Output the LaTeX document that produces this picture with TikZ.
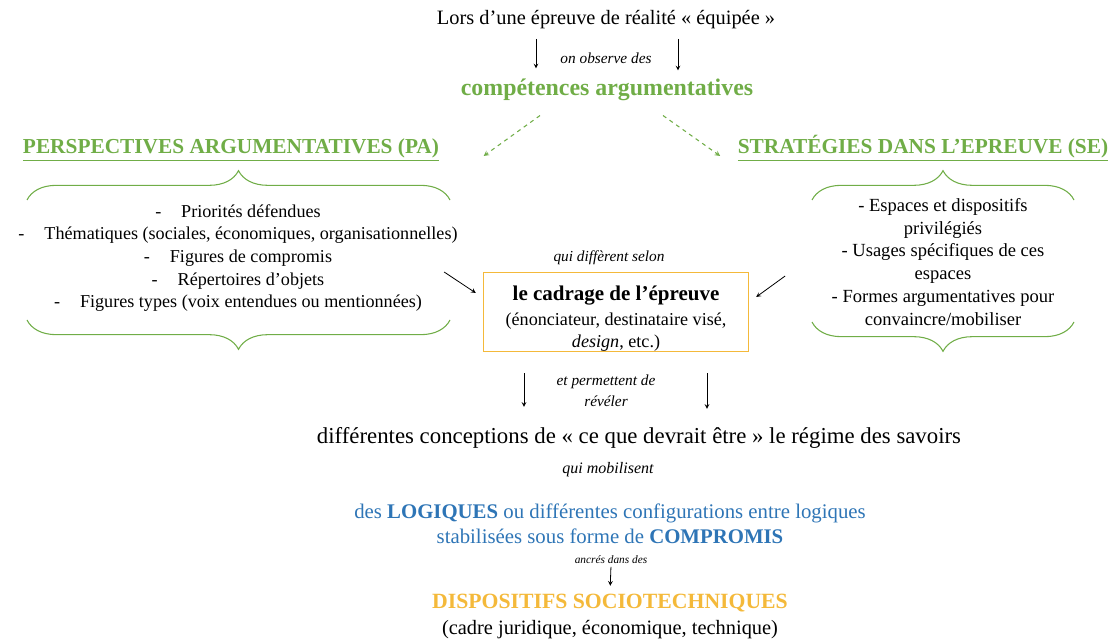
\documentclass[tikz,border=0pt]{standalone}
\usepackage{fontspec}
\setmainfont{Liberation Serif}
\usetikzlibrary{positioning,calc,arrows,decorations.pathreplacing}
\definecolor{vert}{RGB}{112,173,71}
\definecolor{bleu}{RGB}{46,117,182}
\definecolor{jaune}{RGB}{244,185,58}

\begin{document}
\begin{tikzpicture}[x=0.75pt, y=-0.75pt,
    texte/.style={inner sep=1pt, font=\fontsize{15.3}{18}\selectfont},
    liaison/.style={inner sep=1pt, align=center, font=\fontsize{11.5}{16}\selectfont\itshape},
    titre/.style={inner sep=1pt, text=vert, font=\fontsize{16}{19}\selectfont\bfseries},
    liste/.style={inner sep=1pt, align=center, font=\fontsize{13.6}{17}\selectfont},
    cadrebox/.style={draw=jaune, thick, align=center, inner ysep=0.5pt, minimum width=199pt, minimum height=58.5pt},
    fleche/.style={->, >=stealth, draw=black, semithick},
    tirets/.style={->, >=stealth, draw=vert, dashed, thick},
    accolade/.style={draw=vert, thick, decorate, decoration={brace, amplitude=22pt}}
    ]
        \useasboundingbox (0,0) rectangle (1117,641);

        %Nodes
        \node[texte]
            (lors)      at (606,20)     {Lors d’une épreuve de réalité « équipée »};
        \node[liaison]
            (observe)   at (606,58)     {on observe des};
        \node[titre, font=\fontsize{17.9}{20}\selectfont\bfseries]
            (comp)      at (607,90)     {compétences argumentatives};
        \node[titre]
            (pa)        at (231,150)    {\underline{PERSPECTIVES ARGUMENTATIVES (PA)}};
        \node[titre]
            (se)        at (923,148)    {\underline{STRATÉGIES DANS L’EPREUVE (SE)}};
        \node[liste]
            (palist)    at (238,258)    {-\hspace{1.1em}Priorités défendues\\
                                          -\hspace{1.1em}Thématiques (sociales, économiques, organisationnelles)\\
                                          -\hspace{1.1em}Figures de compromis\\
                                          -\hspace{1.1em}Répertoires d’objets\\
                                          -\hspace{1.1em}Figures types (voix entendues ou mentionnées)};
        \node[liste, font=\fontsize{13.9}{17.2}\selectfont]
            (selist)    at (943,262)    {- Espaces et dispositifs\\ privilégiés\\
                                          - Usages spécifiques de ces\\ espaces\\
                                          - Formes argumentatives pour\\ convaincre/mobiliser};
        \node[cadrebox, font=\fontsize{13.6}{16.5}\selectfont]
            (cadrage)   at (616,312)    {\rule{0pt}{21pt}{\fontsize{15.75}{18}\selectfont\bfseries le cadrage de l’épreuve}\\[2pt]
                                          (énonciateur, destinataire visé,\\
                                          \textit{design}, etc.)};
        \node[liaison]
            (selon)     at (609,258)    {qui diffèrent selon};
        \node[liaison]
            (reveler)   at (606,391)    {et permettent de\\révéler};
        \node[texte, font=\fontsize{17.1}{20}\selectfont]
            (concept)   at (639,438)    {différentes conceptions de « ce que devrait être » le régime des savoirs};
        \node[liaison, font=\fontsize{12}{16}\selectfont\itshape]
            (mobil)     at (608,470)    {qui mobilisent};
        \node[texte, text=bleu, align=center, font=\fontsize{15.6}{18.75}\selectfont]
            (logiques)  at (610,524)    {des \textbf{LOGIQUES} ou différentes configurations entre logiques\\
                                          stabilisées sous forme de \textbf{COMPROMIS}};
        \node[liaison, font=\fontsize{8.5}{10}\selectfont\itshape]
            (ancres)    at (611,560)    {ancrés dans des};
        \node[titre, text=jaune, font=\fontsize{16.3}{19}\selectfont\bfseries]
            (dispo)     at (610,603)    {DISPOSITIFS SOCIOTECHNIQUES};
        \node[texte]
            (cadre)     at (610,630)    {(cadre juridique, économique, technique)};

        %Braces
        \draw[accolade] (27,200) -- (450,200);
        \draw[accolade] (450,320) -- (27,320);
        \draw[accolade] (812,200) -- (1074,200);
        \draw[accolade] (1074,322) -- (812,322);

        %Lines
        \draw[fleche] ($(lors.south)+(-70,8)$) -- ($(comp.north)+(-71,-9)$);
        \draw[fleche] ($(lors.south)+(72,8)$) -- ($(comp.north)+(71,-7)$);
        \draw[tirets] ($(comp.south)+(-67,13)$) -- ($(pa.east)+(43,6)$);
        \draw[tirets] ($(comp.south)+(56,13)$) -- ($(se.west)+(-16,8)$);
        \draw[fleche] ($(palist.east)+(-15,14)$) -- ($(cadrage.west)+(-7,-19)$);
        \draw[fleche] ($(selist.west)+(-45,14)$) -- ($(cadrage.east)+(7,-15)$);
        \draw[fleche] ($(cadrage.south)+(-92,21)$) -- ($(concept.north)+(-115,-19)$);
        \draw[fleche] ($(cadrage.south)+(91,21)$) -- ($(concept.north)+(68,-17)$);
        \draw[fleche, shorten <=1pt, shorten >=5pt] (ancres.south) -- (dispo.north);
    \end{tikzpicture}
\end{document}
